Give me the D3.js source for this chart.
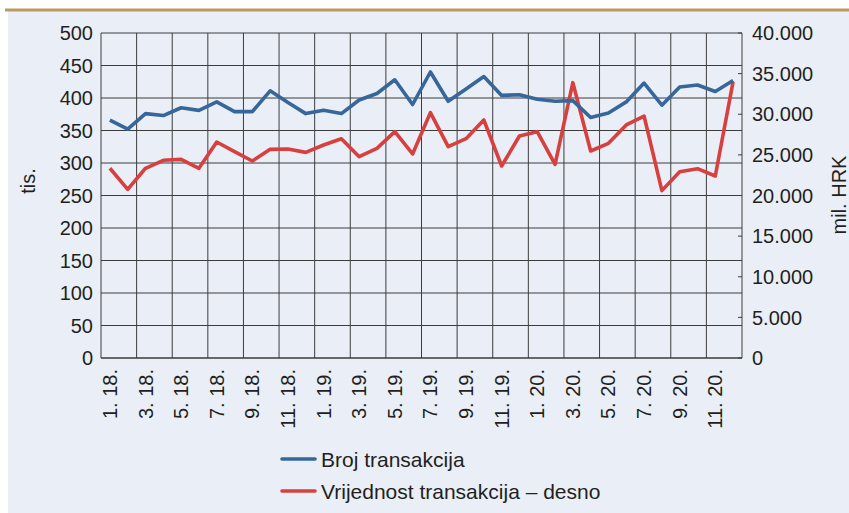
<!DOCTYPE html>
<html>
<head>
<meta charset="utf-8">
<script src="https://cdn.jsdelivr.net/npm/d3@7"></script>
<style>
  html, body { margin: 0; padding: 0; background: #ffffff; }
  svg { display: block; }
  text { font-family: "Liberation Sans", Arial, Helvetica, sans-serif; fill: #231f20; }
</style>
</head>
<body>
<svg id="chart" width="849" height="513"></svg>
<script>
// ---- data ----
const months = [
  "1. 18.","2. 18.","3. 18.","4. 18.","5. 18.","6. 18.","7. 18.","8. 18.","9. 18.","10. 18.","11. 18.","12. 18.",
  "1. 19.","2. 19.","3. 19.","4. 19.","5. 19.","6. 19.","7. 19.","8. 19.","9. 19.","10. 19.","11. 19.","12. 19.",
  "1. 20.","2. 20.","3. 20.","4. 20.","5. 20.","6. 20.","7. 20.","8. 20.","9. 20.","10. 20.","11. 20.","12. 20."
];
const tickMonths = ["1. 18.","3. 18.","5. 18.","7. 18.","9. 18.","11. 18.","1. 19.","3. 19.","5. 19.","7. 19.","9. 19.","11. 19.","1. 20.","3. 20.","5. 20.","7. 20.","9. 20.","11. 20."];
const brojTransakcija = [
  366, 352, 376, 373, 385, 381, 394, 379, 379, 411, 393, 376,
  381, 376, 397, 407, 428, 390, 440, 395, 414, 433, 404, 405,
  398, 395, 396, 370, 377, 394, 423, 389, 417, 420, 410, 427
];
const vrijednostTransakcija = [
  23350, 20760, 23350, 24330, 24450, 23350, 26580, 25400, 24250, 25680, 25720, 25310,
  26220, 26990, 24780, 25800, 27860, 25110, 30200, 26010, 26990, 29290, 23630, 27320,
  27860, 23840, 33890, 25480, 26420, 28680, 29780, 20600, 22930, 23300, 22400, 34010
];
const leftTicks = [0, 50, 100, 150, 200, 250, 300, 350, 400, 450, 500];
const rightTicks = [0, 5000, 10000, 15000, 20000, 25000, 30000, 35000, 40000];
const seriesNames = ["Broj transakcija", "Vrijednost transakcija – desno"];
const leftTitle = "tis.";
const rightTitle = "mil. HRK";

// ---- layout ----
const W = 849, H = 513;
const L = 101, R = 742, T = 33, B = 358;
const blue = "#37679a", red = "#d7403e", grid = "#3c3c3c";

const svg = d3.select("#chart");

// background & top rule
svg.append("rect").attr("x", 8).attr("y", 11).attr("width", W - 8).attr("height", H - 11).attr("fill", "#eaeff7");
svg.append("line").attr("x1", 5).attr("x2", W).attr("y1", 10).attr("y2", 10)
  .attr("stroke", "#b99b5e").attr("stroke-width", 3);

const x = d3.scaleBand().domain(months).range([L, R]);
const yL = d3.scaleLinear().domain([0, 500]).range([B, T]);
const yR = d3.scaleLinear().domain([0, 40000]).range([B, T]);

const loc = d3.formatLocale({ decimal: ",", thousands: ".", grouping: [3], currency: ["", ""] });
const fmtR = loc.format(",d");

// horizontal gridlines (left axis)
svg.append("g").selectAll("line").data(leftTicks).join("line")
  .attr("x1", L).attr("x2", R)
  .attr("y1", d => yL(d)).attr("y2", d => yL(d))
  .attr("stroke", grid).attr("stroke-width", 1);

// vertical gridlines every two months
const vIdx = d3.range(2, months.length, 2);
svg.append("g").selectAll("line").data(vIdx).join("line")
  .attr("x1", d => x(months[d])).attr("x2", d => x(months[d]))
  .attr("y1", T).attr("y2", B)
  .attr("stroke", grid).attr("stroke-width", 1);

// axis lines
svg.append("line").attr("x1", L).attr("x2", L).attr("y1", T).attr("y2", B).attr("stroke", grid);
svg.append("line").attr("x1", R).attr("x2", R).attr("y1", T).attr("y2", B).attr("stroke", grid);
svg.append("line").attr("x1", L).attr("x2", R).attr("y1", B).attr("y2", B).attr("stroke", grid);

// right ticks (inward)
svg.append("g").selectAll("line").data(rightTicks).join("line")
  .attr("x1", R - 4).attr("x2", R)
  .attr("y1", d => yR(d)).attr("y2", d => yR(d))
  .attr("stroke", grid);

// left tick labels
svg.append("g").selectAll("text").data(leftTicks).join("text")
  .attr("x", 93).attr("y", d => yL(d)).attr("dy", "0.36em")
  .attr("text-anchor", "end").attr("font-size", 20)
  .text(d => d);

// right tick labels
svg.append("g").selectAll("text").data(rightTicks).join("text")
  .attr("x", 752).attr("y", d => yR(d)).attr("dy", "0.36em")
  .attr("text-anchor", "start").attr("font-size", 20)
  .text(d => fmtR(d));

// x tick labels (rotated)
svg.append("g").selectAll("text").data(tickMonths).join("text")
  .attr("transform", d => `translate(${x(d) + x.bandwidth() / 2 + 7},369) rotate(-90)`)
  .attr("text-anchor", "end").attr("font-size", 20)
  .text(d => d);

// axis titles
svg.append("text").attr("transform", "translate(35,181) rotate(-90)")
  .attr("text-anchor", "middle").attr("font-size", 20).text(leftTitle);
svg.append("text").attr("transform", "translate(846,195) rotate(-90)")
  .attr("text-anchor", "middle").attr("font-size", 20).text(rightTitle);

// lines
const cx = d => x(d) + x.bandwidth() / 2;
const lineL = d3.line().x((d, i) => cx(months[i])).y(d => yL(d));
const lineR = d3.line().x((d, i) => cx(months[i])).y(d => yR(d));

svg.append("path").datum(vrijednostTransakcija).attr("d", lineR)
  .attr("fill", "none").attr("stroke", red).attr("stroke-width", 3.6).attr("stroke-linejoin", "round");
svg.append("path").datum(brojTransakcija).attr("d", lineL)
  .attr("fill", "none").attr("stroke", blue).attr("stroke-width", 3.6).attr("stroke-linejoin", "round");

// legend
const legend = svg.append("g");
const legColors = [blue, red];
seriesNames.forEach((name, i) => {
  const ly = 459 + i * 32;
  legend.append("line").attr("x1", 282).attr("x2", 315).attr("y1", ly).attr("y2", ly)
    .attr("stroke", legColors[i]).attr("stroke-width", 3.6).attr("stroke-linecap", "round");
  legend.append("text").attr("x", 321).attr("y", ly).attr("dy", "0.36em")
    .attr("font-size", 21).text(name);
});
</script>
</body>
</html>
